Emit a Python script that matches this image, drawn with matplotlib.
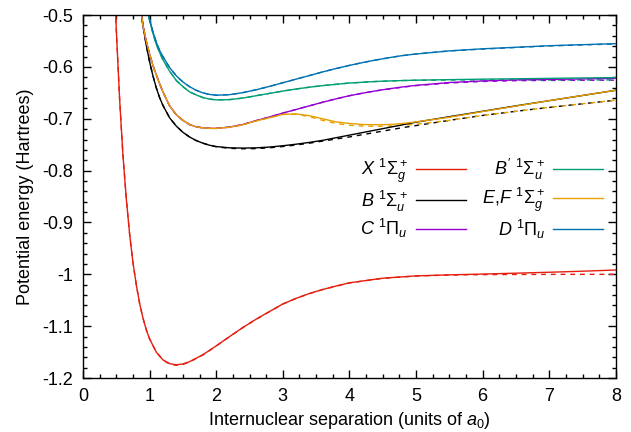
import matplotlib
matplotlib.use("Agg")
import matplotlib.pyplot as plt
from matplotlib.ticker import MultipleLocator, FormatStrFormatter

plt.rcParams['font.family'] = ['Liberation Sans', 'DejaVu Sans']
plt.rcParams['mathtext.fontset'] = 'custom'
plt.rcParams['mathtext.rm'] = 'Liberation Sans'
plt.rcParams['mathtext.it'] = 'Liberation Sans:italic'
plt.rcParams['mathtext.bf'] = 'Liberation Sans:bold'
plt.rcParams['axes.unicode_minus'] = False

# X 1Sigma_g+ (ground state)
r_x = [0.45, 0.5, 0.55, 0.6, 0.65, 0.7, 0.75, 0.8, 0.85, 0.9, 0.95, 1.0, 1.1, 1.2, 1.3,
       1.4, 1.5, 1.6, 1.8, 2.0, 2.2, 2.4, 2.6, 2.8, 3.0, 3.2, 3.4, 3.6, 3.8, 4.0, 4.5,
       5.0, 5.5, 6.0, 6.5, 7.0, 7.5, 8.0]
e_x = [-0.345, -0.527, -0.662, -0.770, -0.854, -0.922, -0.977, -1.020, -1.056, -1.084,
       -1.107, -1.1245, -1.150, -1.165, -1.1723, -1.1745, -1.1729, -1.1685, -1.1551,
       -1.1381, -1.1201, -1.1026, -1.0865, -1.0718, -1.0572, -1.0463, -1.0370, -1.0292,
       -1.0226, -1.0164, -1.0075, -1.0030, -1.0010, -0.9995, -0.9978, -0.9960, -0.9940,
       -0.9917]
e_x_ref = [-0.345, -0.527, -0.662, -0.770, -0.854, -0.922, -0.977, -1.020, -1.056, -1.084,
           -1.107, -1.1245, -1.150, -1.165, -1.1733, -1.1755, -1.1739, -1.1690, -1.1555,
           -1.1383, -1.1203, -1.1028, -1.0867, -1.0720, -1.0574, -1.0465, -1.0372, -1.0294,
           -1.0228, -1.0166, -1.0077, -1.0033, -1.0014, -1.0006, -1.0003, -1.0001, -1.0000,
           -1.0000]

# common grid for the excited states
r_ex = [0.85, 0.9, 0.95, 1.0, 1.05, 1.1, 1.15, 1.2, 1.3, 1.4, 1.5, 1.6, 1.7, 1.8, 1.9,
        2.0, 2.2, 2.4, 2.6, 2.8, 3.0, 3.2, 3.4, 3.6, 3.8, 4.0, 4.2, 4.4, 4.6, 4.8, 5.0,
        5.5, 6.0, 6.5, 7.0, 7.5, 8.0]

# B 1Sigma_u+
e_b = [-0.470, -0.520, -0.558, -0.590, -0.617, -0.640, -0.659, -0.674, -0.698, -0.714,
       -0.726, -0.735, -0.742, -0.747, -0.751, -0.7535, -0.7560, -0.7565, -0.7560,
       -0.7545, -0.7520, -0.7490, -0.7455, -0.7415, -0.7365, -0.7315, -0.7265, -0.7215,
       -0.7165, -0.7115, -0.7065, -0.6960, -0.6855, -0.6750, -0.6650, -0.6550, -0.6450]
e_b_ref = [-0.470, -0.520, -0.558, -0.590, -0.617, -0.640, -0.659, -0.674, -0.698, -0.714,
           -0.726, -0.735, -0.742, -0.747, -0.751, -0.7540, -0.7570, -0.7578, -0.7575,
           -0.7560, -0.7535, -0.7505, -0.7470, -0.7430, -0.7390, -0.7350, -0.7305, -0.7260,
           -0.7215, -0.7170, -0.7130, -0.7030, -0.6935, -0.6855, -0.6780, -0.6710, -0.6640]

# C 1Pi_u
e_c = [-0.470, -0.520, -0.550, -0.575, -0.597, -0.615, -0.632, -0.648, -0.675, -0.692,
       -0.703, -0.711, -0.7155, -0.7175, -0.7184, -0.7185, -0.7160, -0.7110, -0.7035,
       -0.6965, -0.6890, -0.6820, -0.6750, -0.6680, -0.6615, -0.6555, -0.6505, -0.6460,
       -0.6420, -0.6385, -0.6355, -0.6300, -0.6270, -0.6250, -0.6240, -0.6230, -0.6220]
e_c_ref = [-0.470, -0.520, -0.550, -0.575, -0.597, -0.615, -0.632, -0.648, -0.675, -0.692,
           -0.703, -0.711, -0.7155, -0.7175, -0.7184, -0.7185, -0.7160, -0.7110, -0.7035,
           -0.6965, -0.6890, -0.6820, -0.6750, -0.6680, -0.6615, -0.6555, -0.6505, -0.6460,
           -0.6425, -0.6390, -0.6360, -0.6310, -0.6280, -0.6265, -0.6260, -0.6257, -0.6255]

# E,F 1Sigma_g+
e_ef = [-0.470, -0.520, -0.550, -0.575, -0.597, -0.615, -0.632, -0.648, -0.675, -0.692,
        -0.703, -0.711, -0.7155, -0.7175, -0.7184, -0.7185, -0.7162, -0.7115, -0.7040,
        -0.6980, -0.6915, -0.6905, -0.6940, -0.7000, -0.7060, -0.7090, -0.7110, -0.7115,
        -0.7110, -0.7090, -0.7060, -0.6970, -0.6860, -0.6755, -0.6650, -0.6550, -0.6450]
e_ef_ref = [-0.470, -0.520, -0.550, -0.575, -0.597, -0.615, -0.632, -0.648, -0.675, -0.692,
            -0.703, -0.711, -0.7155, -0.7175, -0.7184, -0.7185, -0.7162, -0.7115, -0.7040,
            -0.6980, -0.6915, -0.6910, -0.6960, -0.7030, -0.7090, -0.7125, -0.7140, -0.7145,
            -0.7140, -0.7125, -0.7105, -0.7030, -0.6935, -0.6855, -0.6780, -0.6710, -0.6640]

# B' 1Sigma_u+
e_bp = [-0.400, -0.440, -0.478, -0.510, -0.535, -0.556, -0.572, -0.586, -0.608, -0.626,
        -0.638, -0.648, -0.654, -0.659, -0.6620, -0.6635, -0.6630, -0.6600, -0.6555,
        -0.6510, -0.6465, -0.6425, -0.6390, -0.6360, -0.6335, -0.6310, -0.6295, -0.6280,
        -0.6270, -0.6262, -0.6255, -0.6245, -0.6235, -0.6228, -0.6220, -0.6212, -0.6205]
e_bp_ref = [-0.400, -0.440, -0.478, -0.510, -0.535, -0.556, -0.572, -0.586, -0.608, -0.626,
            -0.638, -0.648, -0.654, -0.659, -0.6620, -0.6635, -0.6630, -0.6600, -0.6555,
            -0.6510, -0.6465, -0.6425, -0.6390, -0.6360, -0.6335, -0.6310, -0.6295, -0.6280,
            -0.6270, -0.6262, -0.6257, -0.6252, -0.6250, -0.6250, -0.6250, -0.6250, -0.6250]

# D 1Pi_u
e_d = [-0.400, -0.440, -0.476, -0.508, -0.532, -0.552, -0.568, -0.580, -0.601, -0.617,
       -0.629, -0.638, -0.645, -0.650, -0.6530, -0.6545, -0.6535, -0.6495, -0.6440,
       -0.6375, -0.6305, -0.6235, -0.6165, -0.6095, -0.6030, -0.5970, -0.5915, -0.5865,
       -0.5820, -0.5780, -0.5750, -0.5690, -0.5650, -0.5620, -0.5590, -0.5570, -0.5550]
e_d_ref = [-0.400, -0.440, -0.476, -0.508, -0.532, -0.552, -0.568, -0.580, -0.601, -0.617,
           -0.629, -0.638, -0.645, -0.650, -0.6530, -0.6545, -0.6535, -0.6495, -0.6440,
           -0.6375, -0.6305, -0.6235, -0.6165, -0.6095, -0.6030, -0.5970, -0.5915, -0.5865,
           -0.5820, -0.5780, -0.5750, -0.5690, -0.5655, -0.5625, -0.5595, -0.5575, -0.5556]

labels = [r'$X\ ^1\Sigma_g^+$', r'$B\ ^1\Sigma_u^+$', r'$C\ ^1\Pi_u$',
          r"$B'\ ^1\Sigma_u^+$", r'$E,\!F\ ^1\Sigma_g^+$', r'$D\ ^1\Pi_u$']
colors = ['#e51e10', '#000000', '#9400d3', '#009e73', '#e69f00', '#0072b2']

curves = [(r_x, e_x, e_x_ref), (r_ex, e_b, e_b_ref), (r_ex, e_c, e_c_ref),
          (r_ex, e_bp, e_bp_ref), (r_ex, e_ef, e_ef_ref), (r_ex, e_d, e_d_ref)]

fig = plt.figure(figsize=(6.31, 4.32), dpi=100)
ax = fig.add_axes([0.1315, 0.125, 0.8445, 0.840])

for (r, e, e_ref), lab, col in zip(curves, labels, colors):
    ax.plot(r, e_ref, color=col, lw=1.0, ls=(0, (3.5, 3.5)))
for (r, e, e_ref), lab, col in zip(curves, labels, colors):
    ax.plot(r, e, color=col, lw=1.0, label=lab)

ax.set_xlim(0, 8)
ax.set_ylim(-1.2, -0.5)
ax.xaxis.set_major_locator(MultipleLocator(1))
ax.xaxis.set_minor_locator(MultipleLocator(0.25))
ax.yaxis.set_major_locator(MultipleLocator(0.1))
ax.yaxis.set_minor_locator(MultipleLocator(0.02))
ax.yaxis.set_major_formatter(FormatStrFormatter('%g'))
ax.tick_params(which='both', direction='in', top=True, right=True, labelsize=13)
ax.tick_params(which='major', length=6, width=1)
ax.tick_params(which='minor', length=3, width=1)
ax.tick_params(axis='x', pad=7)
ax.tick_params(axis='y', pad=7)
for s in ax.spines.values():
    s.set_linewidth(1.0)

ax.set_xlabel(r'Internuclear separation (units of $a_0$)', fontsize=13, labelpad=4)
ax.set_ylabel('Potential energy (Hartrees)', fontsize=13, labelpad=6)

ax.legend(ncol=2, loc='upper right', bbox_to_anchor=(0.976, 0.61), frameon=False,
          markerfirst=False, fontsize=13, handlelength=2.75, columnspacing=0.9,
          labelspacing=0.2, handletextpad=0.45, borderpad=0, borderaxespad=0)

fig.savefig('out.png', dpi=100)
